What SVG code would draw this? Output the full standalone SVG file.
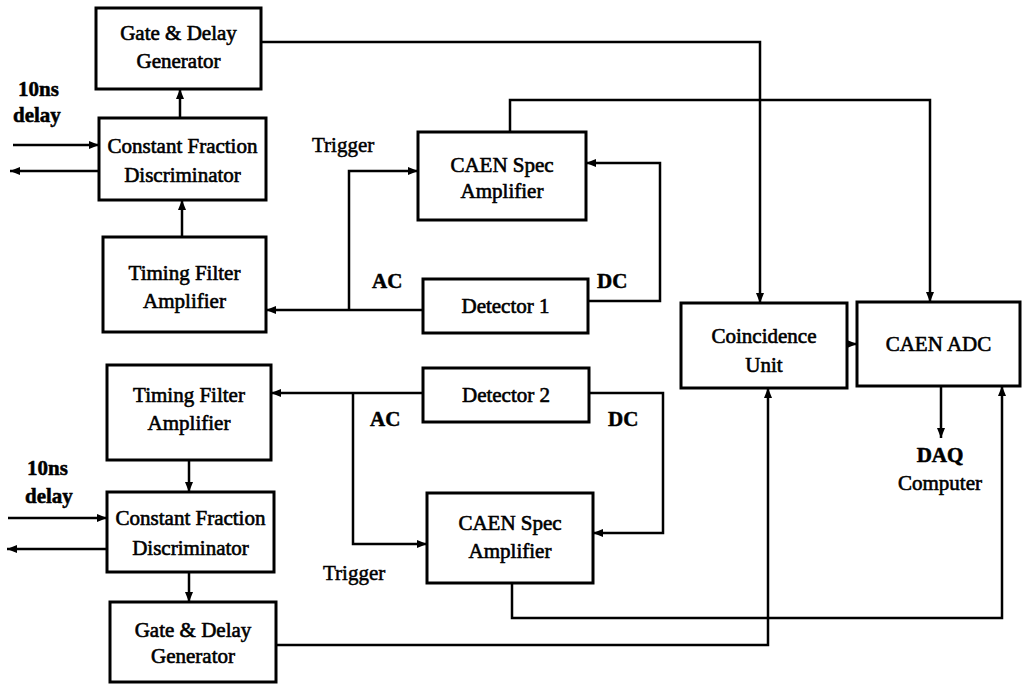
<svg xmlns="http://www.w3.org/2000/svg" width="1022" height="685" viewBox="0 0 1022 685">
<defs>
<marker id="ah" markerUnits="userSpaceOnUse" markerWidth="10" markerHeight="8" refX="10" refY="4" orient="auto">
<path d="M0,0 L10,4 L0,8 z" fill="#000"/>
</marker>
<style>
.box{fill:#fff;stroke:#000;stroke-width:3}
.t{font-family:"Liberation Serif","Times New Roman",serif;font-size:21px;fill:#000;stroke:#000;stroke-width:0.6;text-anchor:middle}
.l{font-family:"Liberation Serif","Times New Roman",serif;font-size:21px;fill:#000;stroke:#000;stroke-width:0.5}
.b{font-weight:bold}
.c{fill:none;stroke:#000;stroke-width:2.5}
.a{marker-end:url(#ah)}
</style>
</defs>
<rect width="1022" height="685" fill="#fff"/>
<g id="connectors">
<path class="c a" d="M180,118 V89"/>
<path class="c a" d="M182,237 V200"/>
<path class="c a" d="M13,145 H99"/>
<path class="c a" d="M99,171 H10"/>
<path class="c a" d="M423,310 H266"/>
<path class="c a" d="M349,310 V171 H418"/>
<path class="c a" d="M588,301 H660 V163 H586"/>
<path class="c a" d="M510,132 V100 H930 V302"/>
<path class="c a" d="M261,42 H760 V303"/>
<path class="c a" d="M847,344 H857"/>
<path class="c a" d="M941,386 V438"/>
<path class="c a" d="M423,393 H271"/>
<path class="c a" d="M353,393 V544 H427"/>
<path class="c a" d="M589,393 H663 V533 H593"/>
<path class="c a" d="M189,460 V492"/>
<path class="c a" d="M189,572 V602"/>
<path class="c a" d="M8,518 H107"/>
<path class="c a" d="M107,549 H7"/>
<path class="c a" d="M512,583 V618 H1002 V386"/>
<path class="c a" d="M276,645 H768 V388"/>
</g>
<g id="gate1"><rect class="box" x="96" y="8" width="165" height="81"/><text class="t" x="178.5" y="40">Gate &amp; Delay</text><text class="t" x="178.5" y="68">Generator</text></g>
<g id="cfd1"><rect class="box" x="99" y="118" width="167" height="82"/><text class="t" x="182.5" y="153">Constant Fraction</text><text class="t" x="182.5" y="182">Discriminator</text></g>
<g id="tfa1"><rect class="box" x="103" y="237" width="163" height="95"/><text class="t" x="184.5" y="280">Timing Filter</text><text class="t" x="184.5" y="308">Amplifier</text></g>
<g id="caen1"><rect class="box" x="418" y="132" width="168" height="88"/><text class="t" x="502" y="172">CAEN Spec</text><text class="t" x="502" y="198">Amplifier</text></g>
<g id="det1"><rect class="box" x="423" y="279" width="165" height="54"/><text class="t" x="505.5" y="313">Detector 1</text></g>
<g id="coinc"><rect class="box" x="681" y="303" width="166" height="85"/><text class="t" x="764" y="343">Coincidence</text><text class="t" x="764" y="372">Unit</text></g>
<g id="adc"><rect class="box" x="857" y="302" width="163" height="84"/><text class="t" x="938.5" y="351">CAEN ADC</text></g>
<g id="daq"><text class="t b" x="940" y="462">DAQ</text><text class="t" x="940" y="490">Computer</text></g>
<g id="tfa2"><rect class="box" x="107" y="365" width="164" height="95"/><text class="t" x="189" y="402">Timing Filter</text><text class="t" x="189" y="430">Amplifier</text></g>
<g id="cfd2"><rect class="box" x="107" y="492" width="167" height="80"/><text class="t" x="190.5" y="525">Constant Fraction</text><text class="t" x="190.5" y="555">Discriminator</text></g>
<g id="gate2"><rect class="box" x="110" y="602" width="166" height="80"/><text class="t" x="193" y="637">Gate &amp; Delay</text><text class="t" x="193" y="663">Generator</text></g>
<g id="det2"><rect class="box" x="423" y="368" width="166" height="54"/><text class="t" x="506" y="402">Detector 2</text></g>
<g id="caen2"><rect class="box" x="427" y="493" width="166" height="90"/><text class="t" x="510" y="530">CAEN Spec</text><text class="t" x="510" y="558">Amplifier</text></g>
<g id="labels">
<text class="l b" x="18" y="96" font-size="20">10ns</text>
<text class="l b" x="13" y="122">delay</text>
<text class="l b" x="27" y="475" font-size="20">10ns</text>
<text class="l b" x="25" y="503">delay</text>
<text class="l" x="312" y="152" font-size="22">Trigger</text>
<text class="l" x="323" y="580" font-size="22">Trigger</text>
<text class="l b" x="372" y="288" font-size="22">AC</text>
<text class="l b" x="597" y="288" font-size="22">DC</text>
<text class="l b" x="370" y="426" font-size="22">AC</text>
<text class="l b" x="608" y="426" font-size="22">DC</text>
</g>
</svg>
